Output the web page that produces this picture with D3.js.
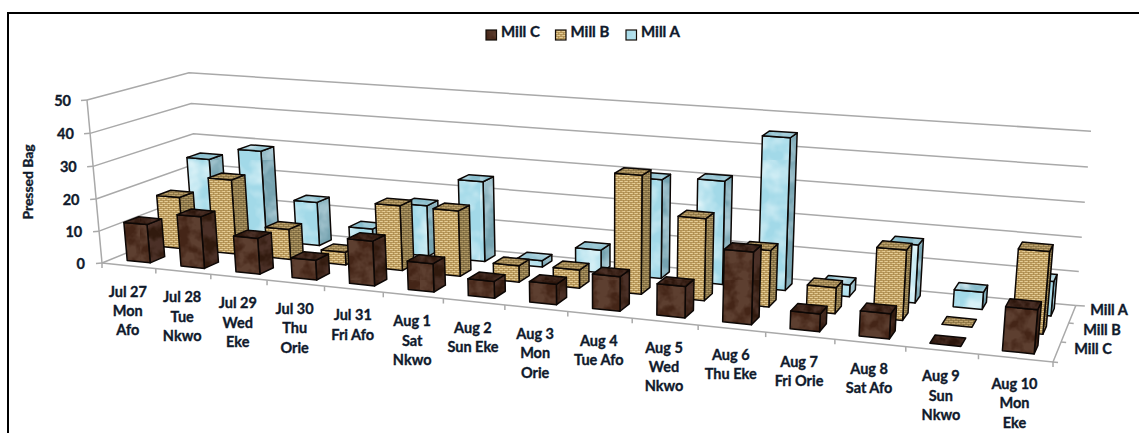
<!DOCTYPE html>
<html>
<head>
<meta charset="utf-8">
<style>
  html, body { margin: 0; padding: 0; background: #fff; }
  svg { display: block; }
  text { font-family: Lato, "Open Sans", sans-serif; font-weight: 700; fill: #101a2c; stroke: #101a2c; stroke-width: 0.35; }
</style>
<script src="https://cdnjs.cloudflare.com/ajax/libs/d3/7.8.5/d3.min.js"></script>
</head>
<body>
<svg id="chart" width="1139" height="433"></svg>
<script>
// Daily pressed bags per mill, with the market-day calendar on the category axis.
const categoryLines = [
  ["Jul 27", "Mon", "Afo"], ["Jul 28", "Tue", "Nkwo"], ["Jul 29", "Wed", "Eke"],
  ["Jul 30", "Thu", "Orie"], ["Jul 31", "Fri Afo"], ["Aug 1", "Sat", "Nkwo"],
  ["Aug 2", "Sun Eke"], ["Aug 3", "Mon", "Orie"], ["Aug 4", "Tue Afo"],
  ["Aug 5", "Wed", "Nkwo"], ["Aug 6", "Thu Eke"], ["Aug 7", "Fri Orie"],
  ["Aug 8", "Sat Afo"], ["Aug 9", "Sun", "Nkwo"], ["Aug 10", "Mon", "Eke"]
];
const categories = categoryLines.map(d => d.join(" "));
const seriesNames = ["Mill C", "Mill B", "Mill A"];
const millC = [12, 16, 11, 6, 13.5, 8.5, 5, 6, 10, 9, 20.5, 5, 7, 0, 12];
const millB = [16.5, 23.5, 9.5, 4, 20, 20, 5, 5.5, 35, 24, 16.5, 7.5, 20, 0, 23];
const millA = [25, 29, 14, 7, 16, 25, 2, 7, 30, 31, 45, 3.5, 17, 5, 10];
const seriesValues = [millC, millB, millA];
const valueTicks = [0, 10, 20, 30, 40, 50];

const svg = d3.select("#chart");

// ---- Fills: mottled brown, woven tan and rippled blue, each with face shades ----
const defs = svg.append("defs");

function noisePattern(id, size, freq, seed, tint, slope, intercept, base) {
  const f = defs.append("filter").attr("id", id + "-noise")
    .attr("x", 0).attr("y", 0).attr("width", "100%").attr("height", "100%");
  f.append("feTurbulence").attr("type", "fractalNoise")
    .attr("baseFrequency", freq).attr("numOctaves", 3).attr("seed", seed);
  f.append("feColorMatrix").attr("type", "matrix")
    .attr("values", `0 0 0 0 ${tint[0]} 0 0 0 0 ${tint[1]} 0 0 0 0 ${tint[2]} ${slope} 0 0 0 ${intercept}`);
  const p = defs.append("pattern").attr("id", id).attr("patternUnits", "userSpaceOnUse")
    .attr("width", size).attr("height", size);
  p.append("rect").attr("width", size).attr("height", size).attr("fill", base);
  p.append("rect").attr("width", size).attr("height", size).attr("filter", `url(#${id}-noise)`);
}
function wovenPattern(id, base, dark, light) {
  const p = defs.append("pattern").attr("id", id).attr("patternUnits", "userSpaceOnUse")
    .attr("width", 5).attr("height", 4);
  p.append("rect").attr("width", 5).attr("height", 4).attr("fill", base);
  p.append("path").attr("d", "M1 0V4M3.5 0V4").attr("stroke", dark).attr("stroke-width", 0.9).attr("opacity", 0.8);
  p.append("path").attr("d", "M0 0.5H5M0 2.5H5").attr("stroke", dark).attr("stroke-width", 0.8).attr("opacity", 0.8);
  p.append("path").attr("d", "M0 1.5H2.5M2.5 3.5H5").attr("stroke", light).attr("stroke-width", 0.8);
}
noisePattern("brown-front", 140, 0.08, 4, [0.11, 0.05, 0.03], 3, -0.9, "#442517");
noisePattern("brown-side", 140, 0.08, 9, [0.07, 0.03, 0.02], 3, -0.9, "#311a0e");
noisePattern("brown-top", 140, 0.12, 2, [0.07, 0.03, 0.02], 2.4, -0.7, "#2c160c");
wovenPattern("tan-front", "#d6b577", "#a68649", "#ecd8a4");
wovenPattern("tan-side", "#a48c5a", "#75623a", "#b8a16d");
wovenPattern("tan-top", "#b59763", "#85703f", "#c8ad79");
noisePattern("blue-front", 160, 0.04, 6, [0.75, 0.91, 0.95], 2.2, -0.85, "#a2d9e8");
noisePattern("blue-side", 160, 0.05, 3, [0.42, 0.6, 0.67], 2.4, -0.85, "#76a3b0");
noisePattern("blue-top", 160, 0.06, 7, [0.6, 0.78, 0.84], 2.2, -0.8, "#88bdcc");

const faceFills = [
  { front: "brown-front", side: "brown-side", top: "brown-top" },
  { front: "tan-front", side: "tan-side", top: "tan-top" },
  { front: "blue-front", side: "blue-side", top: "blue-top" }
];

// ---- Scales over the unit plot box (u along dates, w into the page, h upward) ----
const cellU = d3.scaleBand().domain(categories).range([0, 1]);
const cellW = d3.scaleBand().domain(seriesNames).range([0, 1]);
const barU = d3.scaleBand().domain(categories).range([0, 1]).paddingInner(0.57).paddingOuter(0.285);
const barW = d3.scaleBand().domain(seriesNames).range([0, 1]).paddingInner(0.57).paddingOuter(0.285);
const heightScale = d3.scaleLinear().domain([0, 50]).range([0, 1]);

// ---- Perspective camera: four box corners plus the three foreshortening terms ----
const origin = [102, 263], cornerU = [1053, 362], cornerW = [200, 223], cornerH = [87, 100];
const persp = { u: -0.16, w: 0.09, h: -0.029 };
const coef = [0, 1].map(i => ({
  o: origin[i],
  u: cornerU[i] * (1 + persp.u) - origin[i],
  w: cornerW[i] * (1 + persp.w) - origin[i],
  h: cornerH[i] * (1 + persp.h) - origin[i]
}));
function project(u, w, h) {
  const d = 1 + persp.u * u + persp.w * w + persp.h * h;
  return coef.map(c => (c.o + c.u * u + c.w * w + c.h * h) / d);
}
const polyline = pts => "M" + pts.map(p => p.map(v => v.toFixed(2)).join(",")).join("L");

// ---- Frame ----
svg.append("path").attr("d", "M8 433V13H1139").attr("fill", "none")
  .attr("stroke", "#000").attr("stroke-width", 2);

// ---- Walls, floor and ticks ----
const axisG = svg.append("g").attr("fill", "none").attr("stroke", "#a9a9a9").attr("stroke-width", 1.5);
valueTicks.forEach(v => {
  const h = heightScale(v);
  axisG.append("path").attr("d", polyline([project(0, 0, h), project(0, 1, h), project(1, 1, h)]));
  const p = project(0, 0, h);
  axisG.append("path").attr("d", polyline([p, [p[0] - 6, p[1] + 0.5]]));
});
axisG.append("path").attr("d", polyline([project(0, 0, 1), project(0, 0, 0)]));
axisG.append("path").attr("d", polyline([project(0, 0, 0), project(1, 0, 0), project(1, 1, 0)]));
d3.range(0, categories.length + 1).forEach(i => {
  const p = project(i / categories.length, 0, 0);
  axisG.append("path").attr("d", polyline([p, [p[0], p[1] + 5]]));
});
d3.range(0, seriesNames.length + 1).forEach(i => {
  const p = project(1, i / seriesNames.length, 0);
  axisG.append("path").attr("d", polyline([p, [p[0] + (i === 3 ? 9 : 5), p[1] + 0.5]]));
});

// ---- Bars, painted from the back row forward ----
const barG = svg.append("g").attr("stroke", "#0c0705").attr("stroke-width", 1.5).attr("stroke-linejoin", "round");
d3.range(seriesNames.length - 1, -1, -1).forEach(s => {
  const w0 = barW(seriesNames[s]), w1 = w0 + barW.bandwidth();
  categories.forEach((c, i) => {
    const u0 = barU(c), u1 = u0 + barU.bandwidth();
    const h = heightScale(seriesValues[s][i]);
    const g = barG.append("g");
    if (h > 0) {
      g.append("path").attr("fill", `url(#${faceFills[s].side})`)
        .attr("d", polyline([project(u1, w0, 0), project(u1, w1, 0), project(u1, w1, h), project(u1, w0, h)]) + "Z");
      g.append("path").attr("fill", `url(#${faceFills[s].front})`)
        .attr("d", polyline([project(u0, w0, 0), project(u1, w0, 0), project(u1, w0, h), project(u0, w0, h)]) + "Z");
    }
    g.append("path").attr("fill", `url(#${faceFills[s].top})`)
      .attr("d", polyline([project(u0, w0, h), project(u1, w0, h), project(u1, w1, h), project(u0, w1, h)]) + "Z");
  });
});

// ---- Text ----
valueTicks.forEach(v => {
  const p = project(0, 0, heightScale(v));
  svg.append("text").attr("x", p[0] - 17 + v * 0.02).attr("y", p[1] + 6)
    .attr("text-anchor", "end").attr("font-size", 14.5).text(v);
});
svg.append("text").attr("transform", "translate(33,182) rotate(-90)")
  .attr("text-anchor", "middle").attr("font-size", 12.5).attr("textLength", 75)
  .attr("lengthAdjust", "spacingAndGlyphs").text("Pressed Bag");

categoryLines.forEach((lines, i) => {
  const p = project(cellU(categories[i]) + cellU.bandwidth() / 2, 0, 0);
  const t = svg.append("text").attr("text-anchor", "middle").attr("font-size", 14.5);
  lines.forEach((line, j) => {
    t.append("tspan").attr("x", p[0] - 1).attr("y", p[1] + 31 + j * 19.3).text(line);
  });
});

const depthLabels = [[1093, 354], [1102, 335], [1109, 315]];
seriesNames.forEach((name, s) => {
  svg.append("text").attr("x", depthLabels[s][0]).attr("y", depthLabels[s][1])
    .attr("text-anchor", "middle").attr("font-size", 14.5).text(name);
});

// ---- Legend ----
const legendX = [486, 555.5, 626];
seriesNames.forEach((name, s) => {
  svg.append("rect").attr("x", legendX[s]).attr("y", 30).attr("width", 10.5).attr("height", 10)
    .attr("fill", `url(#${faceFills[s].front})`).attr("stroke", "#120c08").attr("stroke-width", 1.2);
  svg.append("text").attr("x", legendX[s] + 15).attr("y", 37).attr("font-size", 15).text(name);
});
</script>
</body>
</html>
